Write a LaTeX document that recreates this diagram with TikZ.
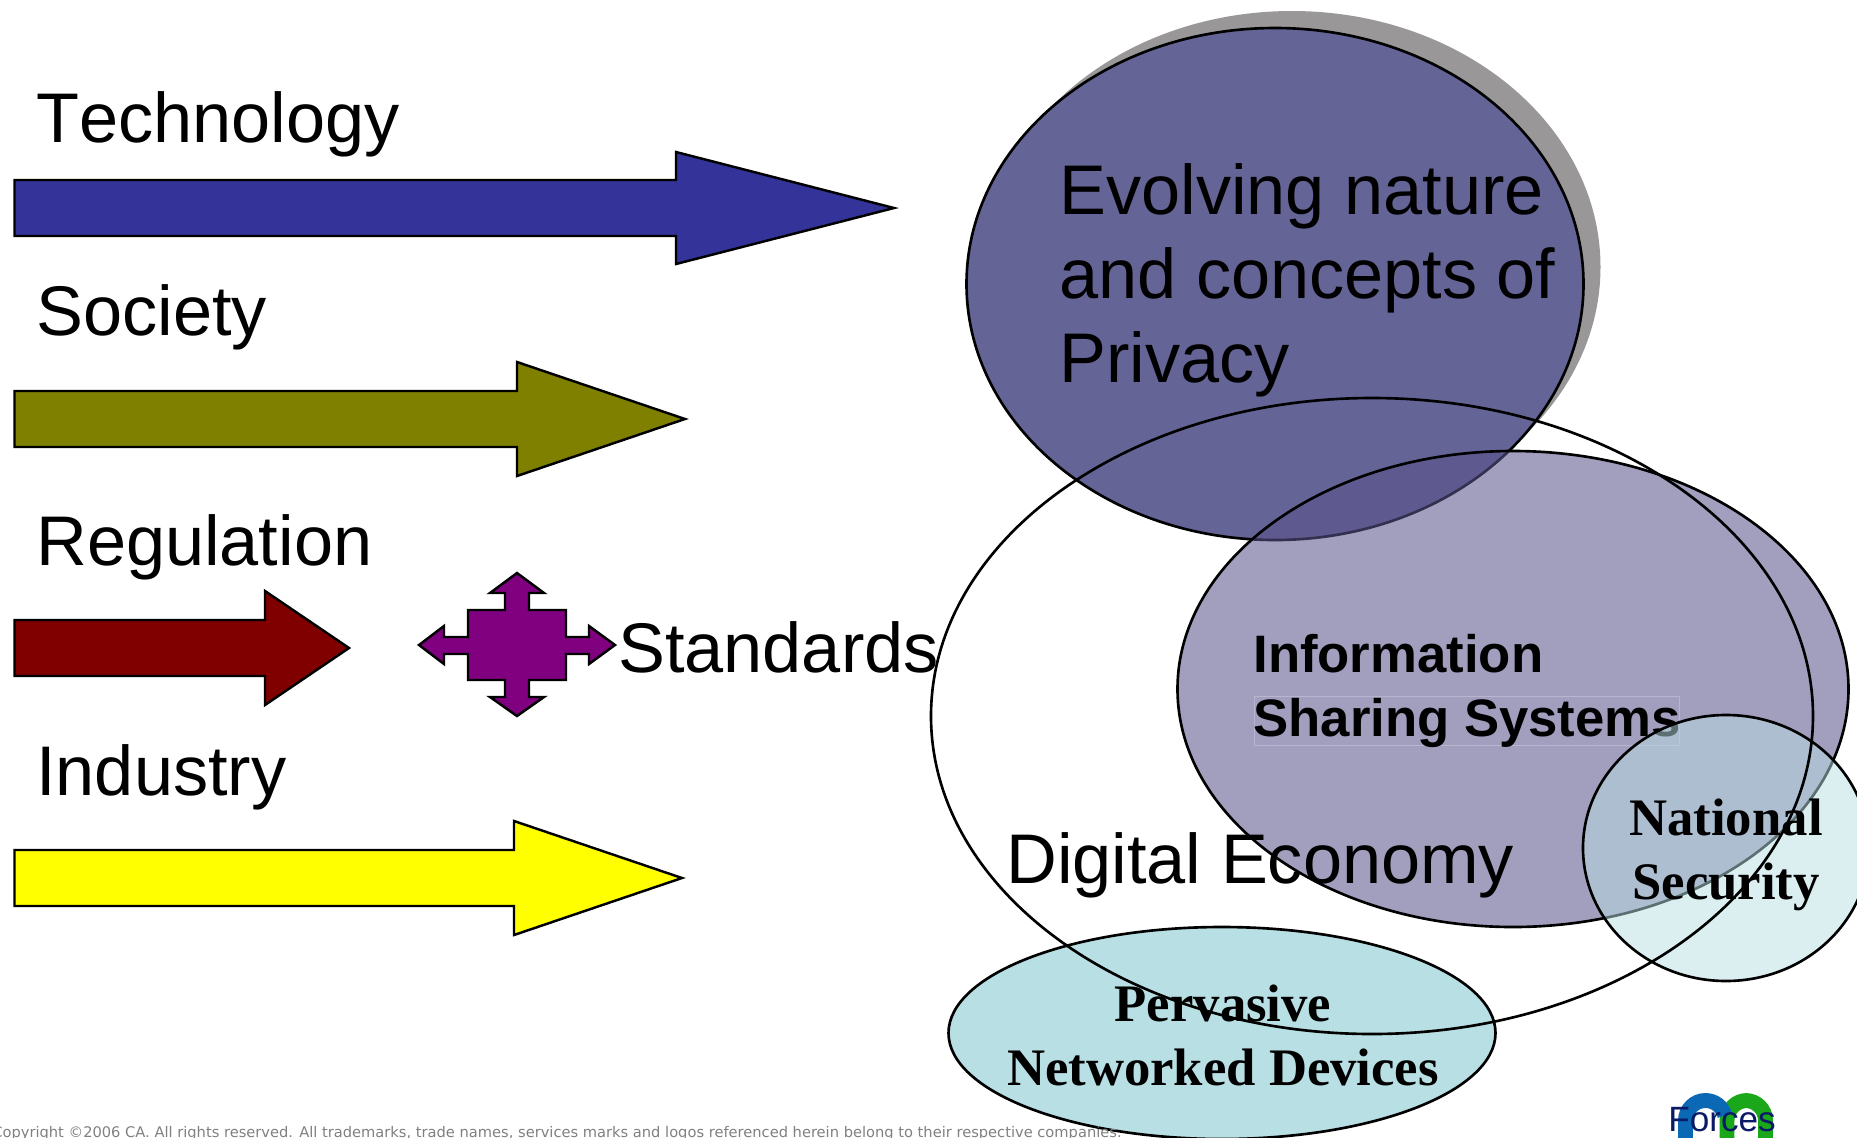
\documentclass[tikz,border=0pt]{standalone}
\usepackage{fontspec}
\setmainfont[Kerning=Off]{Liberation Sans}
\newfontfamily\timesfont{Liberation Serif}
\newfontfamily\footfont{DejaVu Sans}
\definecolor{techblue}{HTML}{333399}
\definecolor{socolive}{HTML}{808000}
\definecolor{regred}{HTML}{800000}
\definecolor{indyellow}{HTML}{FFFF00}
\definecolor{stdpurple}{HTML}{800080}
\definecolor{shadowgray}{HTML}{999797}
\definecolor{privfill}{HTML}{646496}
\definecolor{infofill}{HTML}{5A548C}
\definecolor{devfill}{HTML}{B8DFE3}
\definecolor{boxline}{HTML}{B8B5D0}
\definecolor{forcenavy}{HTML}{0A1A66}
\definecolor{logoblue}{HTML}{0A68B4}
\definecolor{logogreen}{HTML}{1AA81A}
\tikzset{
  bigarrow/.style={draw=black,line width=1.4pt,line join=miter},
  ring/.style={draw=black,line width=1.5pt},
  biglabel/.style={anchor=base west,inner sep=0pt,font=\fontsize{40}{48}\selectfont},
  boldlabel/.style={anchor=base west,inner sep=0pt,font=\fontsize{30}{36}\selectfont\bfseries},
  serifhead/.style={anchor=base,inner sep=0pt,font=\fontsize{30}{36}\selectfont\timesfont\bfseries},
  logoline/.style={line width=8.5pt}
}
\newcommand{\longarrow}[6]{% colour, x of head base, y centre, half shaft, half head, tip x
  \draw[bigarrow,fill=#1] (14.5,#3-#4) -- (#2,#3-#4) -- (#2,#3-#5) -- (#6,#3) -- (#2,#3+#5) -- (#2,#3+#4) -- (14.5,#3+#4) -- cycle;}
\begin{document}
\begin{tikzpicture}[x=0.02cm,y=-0.02cm]
  \useasboundingbox (0,0) rectangle (1857,1137);
  \clip (0,0) rectangle (1857,1137);

  % Arrows on the left
  \longarrow{techblue}{676}{208}{28}{56}{894}
  \longarrow{socolive}{517}{419}{28}{57}{685}
  \longarrow{regred}{265}{648}{28}{57}{349}
  \longarrow{indyellow}{514}{878}{28}{57}{682}

  % Four-way arrow
  \draw[bigarrow,fill=stdpurple] (517,573) -- (544,593) -- (529,593) -- (529,610) -- (566,610) -- (566,637) -- (589,637) -- (589,626) -- (615,645) -- (589,664) -- (589,654) -- (566,654) -- (566,680) -- (529,680) -- (529,697) -- (544,697) -- (517,716) -- (490,697) -- (505,697) -- (505,680) -- (468,680) -- (468,654) -- (444,654) -- (444,664) -- (419,645) -- (444,626) -- (444,637) -- (468,637) -- (468,610) -- (505,610) -- (505,593) -- (490,593) -- cycle;

  \node[biglabel] (technology) at (36,142) {Technology};
  \node[biglabel] (society) at (36,335) {Society};
  \node[biglabel] (regulation) at (36,565) {Regulation};
  \node[biglabel] (industry) at (36,795) {Industry};
  \node[biglabel] (standards) at (618,672) {Standards};

  % Logo under its word
  \draw[logoline,logogreen] (1765.5,1150) -- (1765.5,1120.5) arc (0:-90:20) -- (1747,1100.5) arc (-90:-180:20) -- (1727,1150);
  \draw[logoline,logoblue] (1685.5,1150) -- (1685.5,1120.5) arc (180:345:20);
  \node[anchor=base west,inner sep=0pt,text=forcenavy,font=\fontsize{20}{24}\selectfont] (forces) at (1668,1131) {Forces};

  % Overlapping ellipses
  \fill[shadowgray] (1292,267) ellipse (308.5 and 256);
  \draw[ring,fill=privfill] (1275,284) ellipse (308.5 and 256);
  \draw[ring,fill=infofill,fill opacity=0.57] (1513,689) ellipse (335.5 and 238);
  \node[draw=boxline,line width=0.4pt,minimum width=242pt,minimum height=28pt,inner sep=0pt] (sharingbox) at (1467,721) {};
  \node[boldlabel] (information) at (1253,672) {Information};
  \node[boldlabel] (sharing) at (1253,736) {Sharing Systems};
  \draw[ring,fill=devfill] (1222,1033) ellipse (273.5 and 106);
  \draw[ring,fill=devfill,fill opacity=0.5] (1726,848) ellipse (143 and 133);
  \draw[ring] (1372,716) ellipse (441 and 318);

  \node[biglabel] (evolving) at (1059,214) {Evolving nature};
  \node[biglabel] (concepts) at (1059,298) {and concepts of};
  \node[biglabel] (privacy) at (1059,382) {Privacy};
  \node[biglabel] (digital) at (1006,883) {Digital Economy};
  \node[serifhead] (pervasive) at (1223,1021) {Pervasive};
  \node[serifhead] (networked) at (1223,1085) {Networked Devices};
  \node[serifhead] (national) at (1726,835) {National};
  \node[serifhead] (security) at (1726,899) {Security};

  \node[anchor=base west,inner sep=0pt,text=gray,font=\fontsize{8.34}{10}\selectfont\footfont] (copyright) at (-8,1137) {Copyright ©2006 CA. All rights reserved. All trademarks, trade names, services marks and logos referenced herein belong to their respective companies.};
\end{tikzpicture}
\end{document}
